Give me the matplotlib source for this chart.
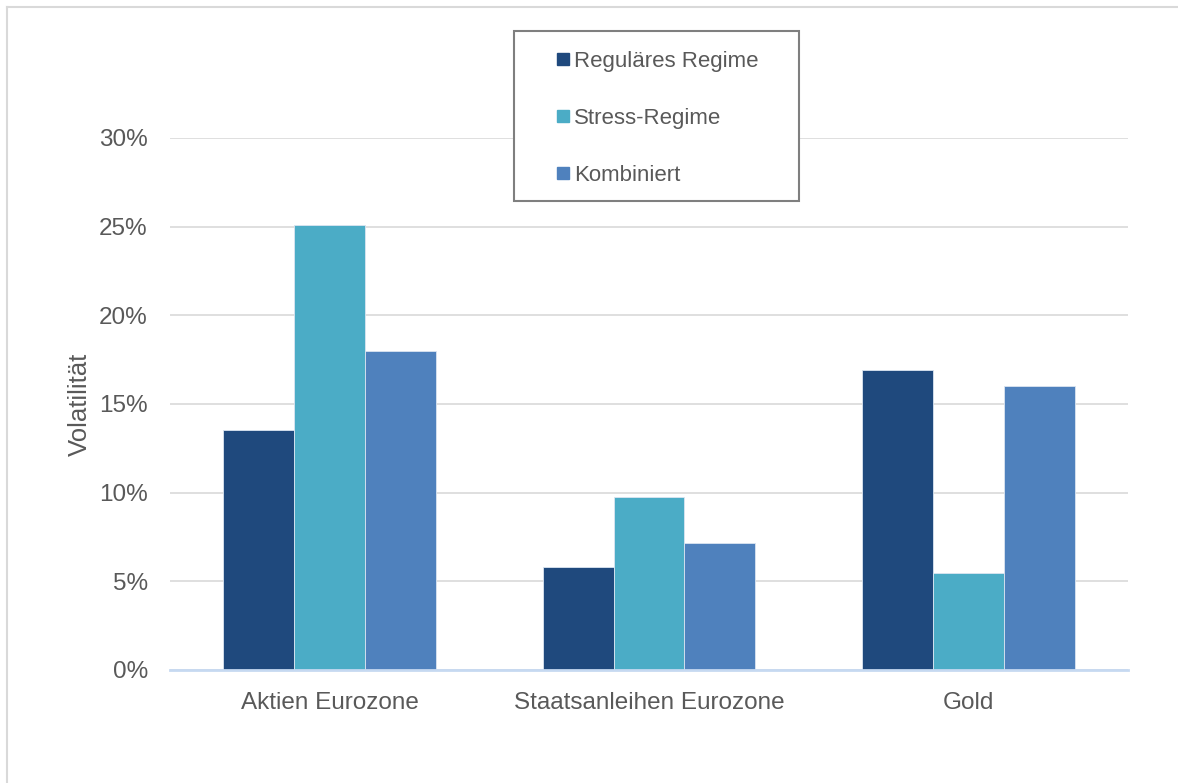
import matplotlib
matplotlib.use("Agg")
import matplotlib.pyplot as plt
from matplotlib.lines import Line2D
from matplotlib.patches import Rectangle
from matplotlib.ticker import FuncFormatter
import numpy as np

plt.rcParams['font.family'] = ['Liberation Sans', 'DejaVu Sans']

# Data
categories = ["Aktien Eurozone", "Staatsanleihen Eurozone", "Gold"]
series_names = ["Reguläres Regime", "Stress-Regime", "Kombiniert"]
regular = [0.1355, 0.0582, 0.1692]
stress = [0.2510, 0.0976, 0.0548]
combined = [0.1800, 0.0718, 0.1602]
colors = ['#1f497d', '#4bacc6', '#4f81bd']

text_col = '#595959'
W, H = 1178, 783
fs = 17.5

fig = plt.figure(figsize=(W / 100, H / 100), dpi=100)
ax = fig.add_axes([170 / W, 113 / H, 958 / W, 532 / H])

x = np.arange(len(categories))
w = 0.2222
for i, (vals, name) in enumerate(zip([regular, stress, combined], series_names)):
    ax.bar(x + (i - 1) * w, vals, width=w, color=colors[i], edgecolor='#dbe5f1',
           linewidth=0.6, label=name, zorder=3)

ax.set_xlim(-0.5, 2.5)
ax.set_ylim(0, 0.30)
ax.set_yticks(np.arange(0, 0.301, 0.05))
ax.yaxis.set_major_formatter(FuncFormatter(lambda v, p: f"{v * 100:.0f}%"))
ax.set_xticks(x)
ax.set_xticklabels(categories)
ax.tick_params(axis='both', length=0, labelsize=fs, colors=text_col)
ax.tick_params(axis='x', pad=15.5)
ax.tick_params(axis='y', pad=16)

ax.grid(axis='y', color='#d9d9d9', linewidth=1.2, zorder=0)
for s in ['top', 'right', 'left']:
    ax.spines[s].set_visible(False)
ax.spines['bottom'].set_color('#c6d9f1')
ax.spines['bottom'].set_linewidth(2)
ax.spines['bottom'].set_zorder(4)

ax.set_ylabel("Volatilität", fontsize=18.5, color=text_col, labelpad=5)

# legend: frame drawn separately, entries placed inside it
leg_fs = 16
fig.add_artist(Rectangle((514 / W, 1 - 201 / H), 285 / W, 170 / H, transform=fig.transFigure,
                         facecolor='white', edgecolor='#7f7f7f', linewidth=1.5, zorder=5))
handles = [Line2D([0], [0], marker='s', linestyle='none', markersize=9,
                  markerfacecolor=c, markeredgecolor=c) for c in colors]
leg = fig.legend(handles, series_names, loc='upper left',
                 bbox_to_anchor=(557 / W, 1 - 51 / H), fontsize=leg_fs,
                 frameon=False, labelspacing=1.62,
                 handlelength=0.55, handletextpad=0.22, borderpad=0,
                 borderaxespad=0)
leg.set_zorder(6)
for t in leg.get_texts():
    t.set_color(text_col)

# light border of the chart area (top and left)
fig.add_artist(Line2D([7 / W, 1], [1 - 7 / H, 1 - 7 / H], transform=fig.transFigure,
                      color='#d9d9d9', linewidth=1.5))
fig.add_artist(Line2D([7 / W, 7 / W], [0, 1 - 7 / H], transform=fig.transFigure,
                      color='#d9d9d9', linewidth=1.5))

fig.savefig("out.png", dpi=100, facecolor='white')
